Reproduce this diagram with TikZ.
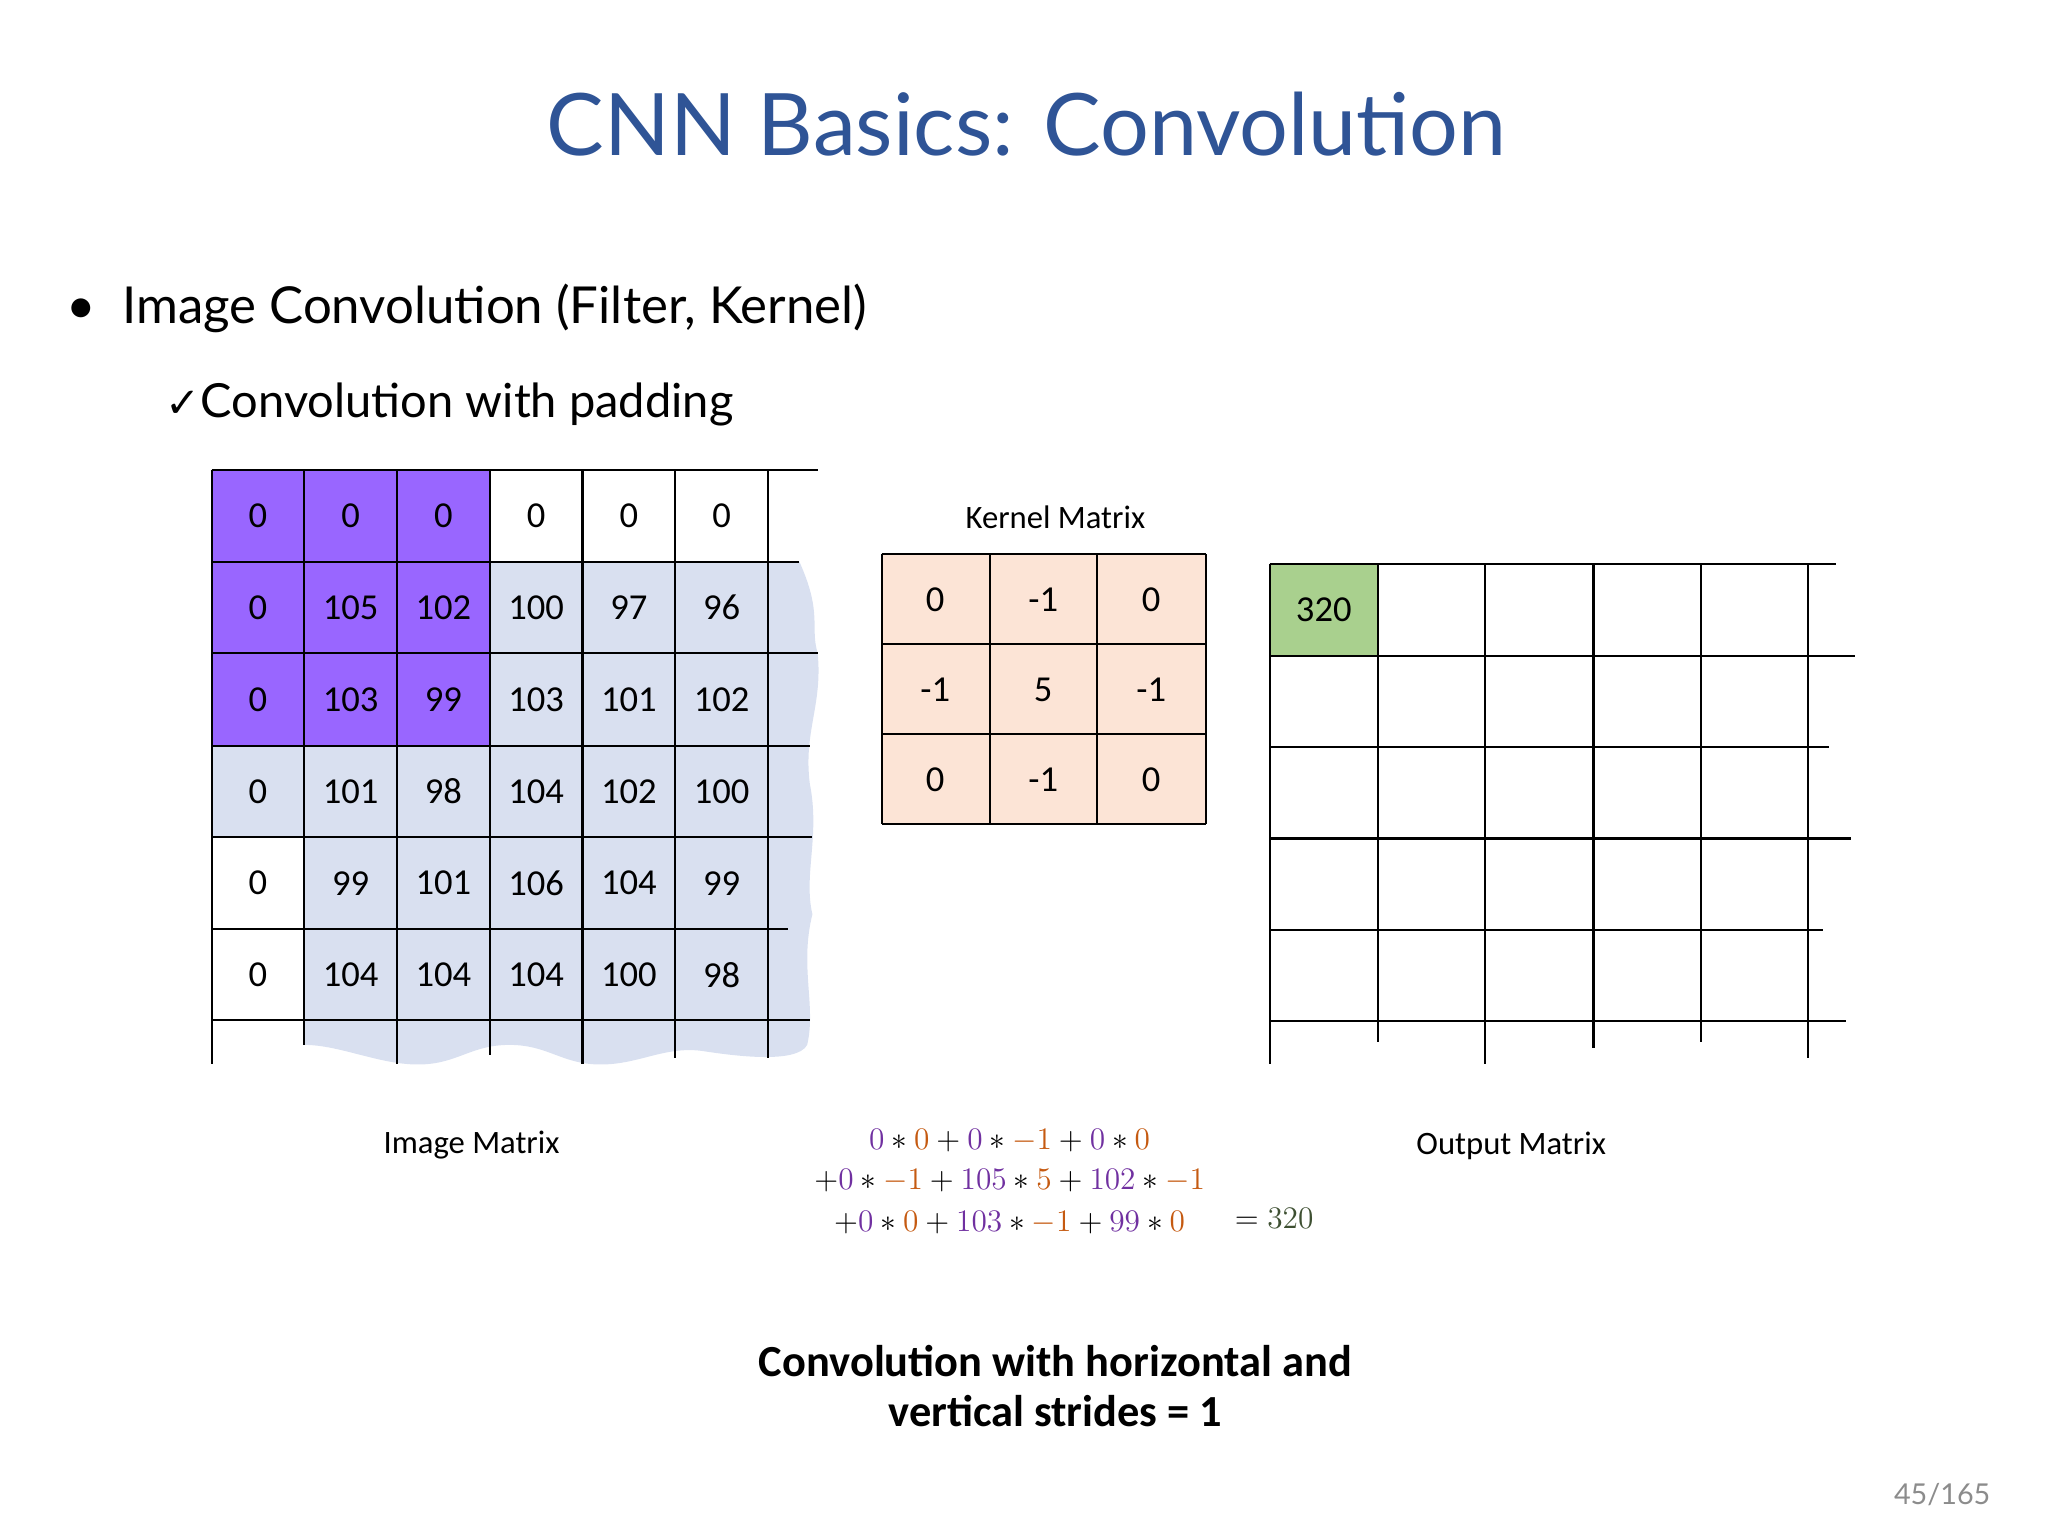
\documentclass[tikz,border=0pt]{standalone}
\usepackage{fontspec}
\setmainfont{Carlito}
\newfontfamily\gill{Lato}
\usepackage{xcolor}
\definecolor{titleblue}{RGB}{47,84,150}
\definecolor{purp}{RGB}{153,102,255}
\definecolor{lblue}{RGB}{217,224,240}
\definecolor{peach}{RGB}{252,228,214}
\definecolor{grn}{RGB}{169,208,142}
\definecolor{fv}{RGB}{112,48,160}
\definecolor{fo}{RGB}{197,90,17}
\definecolor{fg}{RGB}{62,80,50}
\begin{document}
\begin{tikzpicture}[x=0.5pt,y=-0.5pt,
  cell/.style={font=\fontsize{14}{16}\selectfont},
  lab/.style={font=\fontsize{12.5}{15}\selectfont},
  fm/.style={font=\fontsize{13}{15}\selectfont,inner sep=0pt},
  gl/.style={line width=0.8pt}]
\useasboundingbox (0,0) rectangle (1568,1176);
\node[font=\gill\fontsize{33}{38}\selectfont,text=titleblue] (title) at (786,95) {CNN Basics: Convolution};
\node[font=\gill\fontsize{19.5}{23}\selectfont,anchor=west] (b1) at (44,236) {\textbullet\ \ Image Convolution (Filter, Kernel)};
\node[font=\gill\fontsize{18}{22}\selectfont,anchor=west] (b2) at (120,310) {{\fontspec{DejaVu Sans}\fontsize{16}{18}\selectfont ✓}Convolution with padding};
% image matrix fills
\fill[lblue] (233,430) -- (612,430) .. controls (630,470) and (620,480) .. (626,500)
  .. controls (630,540) and (615,560) .. (620,600) .. controls (628,640) and (615,670) .. (622,700)
  .. controls (612,740) and (625,770) .. (618,800) .. controls (610,815) and (560,808) .. (540,805)
  .. controls (510,800) and (490,815) .. (460,815) .. controls (430,815) and (420,800) .. (390,800)
  .. controls (360,800) and (350,815) .. (320,815) .. controls (290,815) and (260,800) .. (233,800) -- cycle;
\fill[lblue] (162,571) rectangle (233,641);
\fill[purp] (162,360) rectangle (375,571);
\foreach \y/\e in {360/626,430/612,500/626,571/620,641/622,711/603,781/620}
  \draw[gl] (162,\y) -- (\e,\y);
\foreach \x/\b in {162/815,233/800,304/815,375/808,446/815,517/810,588/810}
  \draw[gl] (\x,360) -- (\x,\b);
\foreach \r/\row in {0/{0,0,0,0,0,0},1/{0,105,102,100,97,96},2/{0,103,99,103,101,102},3/{0,101,98,104,102,100},4/{0,99,101,106,104,99},5/{0,104,104,104,100,98}}{
  \foreach \v [count=\c from 0] in \row
    \node[cell] (i\r\c) at (197.5+71*\c,395+70.3*\r) {\v};
}
% kernel
\fill[peach] (675,424) rectangle (923,631);
\foreach \x in {675,758,840,923} \draw[gl] (\x,424) -- (\x,631);
\foreach \y in {424,493,562,631} \draw[gl] (675,\y) -- (923,\y);
\foreach \r/\row in {0/{0,-1,0},1/{-1,5,-1},2/{0,-1,0}}{
  \foreach \v [count=\c from 0] in \row
    \node[cell] (k\r\c) at (716+82.7*\c,459+69*\r) {\v};
}
\node[lab] (klab) at (808,396) {Kernel Matrix};
% output
\fill[grn] (972,432) rectangle (1055,502);
\foreach \y/\e in {432/1406,502/1420,572/1400,642/1417,712/1396,782/1413}
  \draw[gl] (972,\y) -- (\e,\y);
\foreach \x/\b in {972/815,1055/798,1137/815,1220/802,1302/798,1384/810}
  \draw[gl] (\x,432) -- (\x,\b);
\node[cell] (o00) at (1013.5,467) {320};
\node[lab] (ilab) at (361,877) {Image Matrix};
\node[lab] (olab) at (1157,877) {Output Matrix};
% formula
\node[fm] (f1) at (773,873) {$\color{fv}0\color{black}*\color{fo}0\color{black}+\color{fv}0\color{black}*\color{fo}-1\color{black}+\color{fv}0\color{black}*\color{fo}0$};
\node[fm] (f2) at (773,904) {$+\color{fv}0\color{black}*\color{fo}-1\color{black}+\color{fv}105\color{black}*\color{fo}5\color{black}+\color{fv}102\color{black}*\color{fo}-1$};
\node[fm] (f3) at (773,936) {$+\color{fv}0\color{black}*\color{fo}0\color{black}+\color{fv}103\color{black}*\color{fo}-1\color{black}+\color{fv}99\color{black}*\color{fo}0$};
\node[fm,anchor=west] (f4) at (945,933) {$=\color{fg}320$};
\node[font=\bfseries\fontsize{17}{20}\selectfont,align=center] (cap) at (808,1061) {Convolution with horizontal and\\[-1pt] vertical strides = 1};
\node[font=\gill\fontsize{11}{13}\selectfont,text=black!45] (pg) at (1487,1144) {45/165};
\end{tikzpicture}
\end{document}
